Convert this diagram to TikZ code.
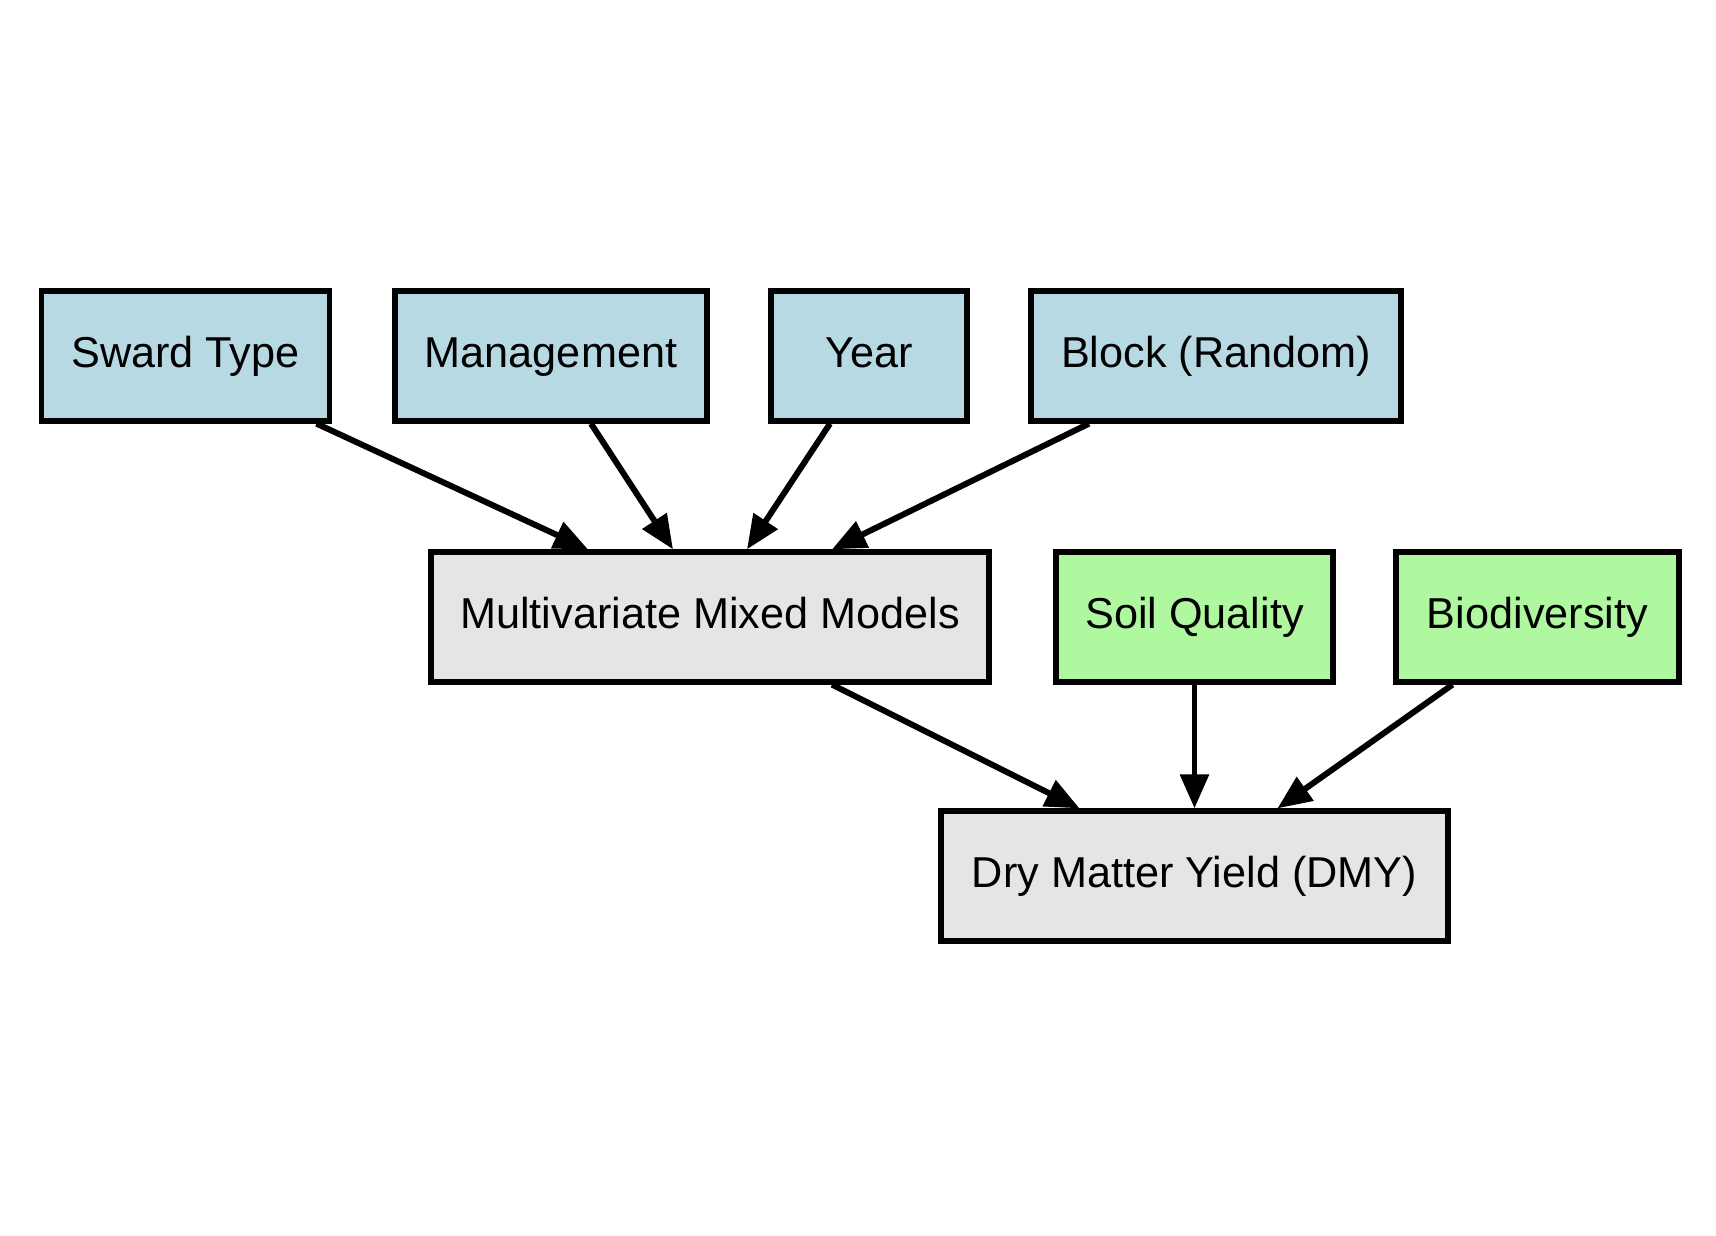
\documentclass[tikz,border=0pt]{standalone}
\usepackage{fontspec}
\setmainfont{Liberation Sans}
\usetikzlibrary{arrows.meta}
\definecolor{factorblue}{RGB}{183,217,227}
\definecolor{covgreen}{RGB}{175,248,160}
\definecolor{modelgray}{RGB}{229,229,229}
\begin{document}
\begin{tikzpicture}[font=\fontsize{12.3}{14}\selectfont,
  box/.style={draw,line width=1.5pt,minimum height=1.3cm,inner sep=0pt,
    text height=1.7ex,text depth=0.5ex},
  factor/.style={box,fill=factorblue},
  cov/.style={box,fill=covgreen},
  model/.style={box,fill=modelgray},
  arr/.style={-{Triangle[length=0.34cm,width=0.28cm]},line width=1.7pt}]
\useasboundingbox (0,0) rectangle (17.16,-12.36);
% fixed effects and random block
\node[factor,minimum width=2.88cm] (sward) at (1.855,-3.56) {Sward Type};
\node[factor,minimum width=3.12cm] (mgmt) at (5.51,-3.56) {Management};
\node[factor,minimum width=1.96cm] (year) at (8.69,-3.56) {Year};
\node[factor,minimum width=3.70cm] (block) at (12.16,-3.56) {Block (Random)};
% model and covariates
\node[model,minimum width=5.58cm] (mmm) at (7.10,-6.17) {Multivariate Mixed Models};
\node[cov,minimum width=2.77cm] (soil) at (11.945,-6.17) {Soil Quality};
\node[cov,minimum width=2.83cm] (bio) at (15.375,-6.17) {Biodiversity};
% response
\node[model,minimum width=5.07cm] (dmy) at (11.945,-8.76) {Dry Matter Yield (DMY)};
\draw[arr] ([xshift=1.31cm]sward.south) -- ([xshift=-1.22cm]mmm.north);
\draw[arr] ([xshift=0.40cm]mgmt.south) -- ([xshift=-0.37cm]mmm.north);
\draw[arr] ([xshift=-0.39cm]year.south) -- ([xshift=0.37cm]mmm.north);
\draw[arr] ([xshift=-1.27cm]block.south) -- ([xshift=1.22cm]mmm.north);
\draw[arr] ([xshift=1.22cm]mmm.south) -- ([xshift=-1.15cm]dmy.north);
\draw[arr] (soil.south) -- (dmy.north);
\draw[arr] ([xshift=-0.85cm]bio.south) -- ([xshift=0.83cm]dmy.north);
\end{tikzpicture}
\end{document}
